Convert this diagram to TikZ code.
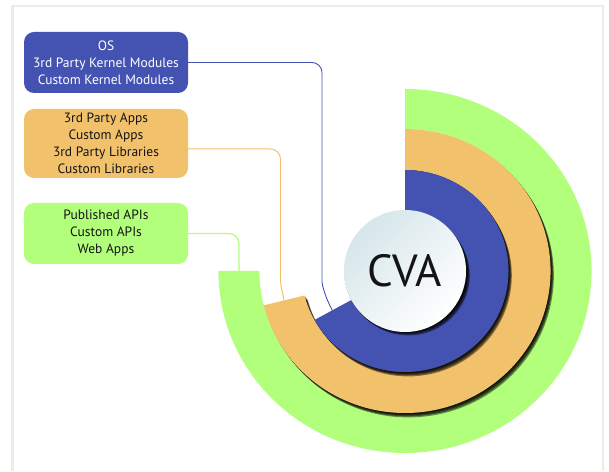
\documentclass[tikz,border=0pt]{standalone}
\usepackage{fontspec}
\setmainfont{PT Sans}
\usepackage{tikz}
\definecolor{osblue}{RGB}{68,83,177}
\definecolor{appsorange}{RGB}{242,193,107}
\definecolor{apigreen}{RGB}{177,255,122}
\definecolor{framegray}{RGB}{235,235,232}
\definecolor{cvatint}{RGB}{214,230,234}
\definecolor{inktext}{RGB}{20,20,20}
\tikzset{
	box/.style={rounded corners=10pt, minimum width=164pt, align=center,
		inner sep=2pt, text=inktext, font=\fontsize{13.5}{17}\selectfont},
	osbox/.style={box, fill=osblue, text=white, minimum height=61pt},
	appsbox/.style={box, fill=appsorange, minimum height=69pt},
	apibox/.style={box, fill=apigreen, minimum height=61pt},
	link/.style={line width=1pt, rounded corners=10pt},
	ringshadow/.style={fill=black, opacity=0.45},
	cva/.style={circle, minimum size=122pt, inner sep=0pt, text=inktext,
		top color=cvatint, bottom color=white, shading angle=45,
		font=\fontsize{45}{45}\selectfont},
}

\begin{document}
\begin{tikzpicture}[x=1pt, y=1pt]
	\useasboundingbox (0,0) rectangle (609,471);
	\draw[framegray, line width=2.5pt] (12.5,0) -- (12.5,465) -- (603,465) -- (603,0);
	% layers, outside in
	\begin{scope}[shift={(405,200)}, xscale=1.025]
		\fill[apigreen] (90:182) arc[start angle=90, end angle=-180, radius=182]
			-- (180:142) arc[start angle=-180, end angle=90, radius=142] -- cycle;
		\foreach \s in {1,...,4}
			\fill[ringshadow, shift={(\s*0.8,-\s*1.1)}] (90:142) arc[start angle=90, end angle=-166, radius=142]
				-- (-166:101) arc[start angle=-166, end angle=90, radius=101] -- cycle;
		\fill[appsorange] (90:142) arc[start angle=90, end angle=-166, radius=142]
			-- (-166:101) arc[start angle=-166, end angle=90, radius=101] -- cycle;
		\foreach \s in {1,...,4}
			\fill[ringshadow, shift={(\s*0.8,-\s*1.1)}] (90:101) arc[start angle=90, end angle=-151, radius=101]
				-- (-151:60) arc[start angle=-151, end angle=90, radius=60] -- cycle;
		\fill[osblue] (90:101) arc[start angle=90, end angle=-151, radius=101]
			-- (-151:60) arc[start angle=-151, end angle=90, radius=60] -- cycle;
		\foreach \s in {1,...,4}
			\fill[ringshadow, shift={(\s*0.8,-\s*1.1)}] (0,0) circle[radius=60];
		\node[cva] (cva) at (0,0) {CVA};
		\coordinate (oslink) at (180:81);
		\coordinate (appslink) at (180:121.5);
		\coordinate (apilink) at (180:162);
	\end{scope}
	% label boxes
	\node[osbox] (os) at (106,408.5) {OS\\3rd Party Kernel Modules\\Custom Kernel Modules};
	\node[appsbox] (apps) at (106,327.5) {3rd Party Apps\\Custom Apps\\3rd Party Libraries\\Custom Libraries};
	\node[apibox] (apis) at (106,237.5) {Published APIs\\Custom APIs\\Web Apps};
	\begin{scope}[shift={(405,200)}, xscale=1.025]
		\draw[link, osblue, line width=0.9pt] (os.east) -| (oslink)
			[sharp corners] arc[start angle=180, end angle=209, radius=81];
		\draw[link, appsorange] ([yshift=-5.5pt]apps.east) -| (appslink)
			[sharp corners] arc[start angle=180, end angle=194, radius=121.5];
		\draw[link, apigreen, line width=1.3pt] (apis.east) -| (apilink);
	\end{scope}
\end{tikzpicture}
\end{document}
